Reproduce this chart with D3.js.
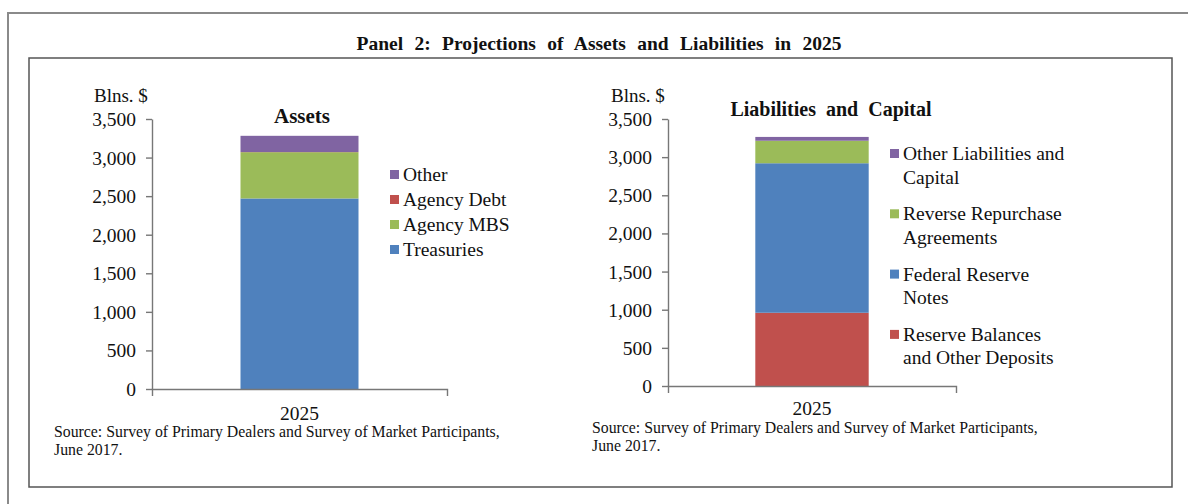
<!DOCTYPE html>
<html><head><meta charset="utf-8">
<script src="https://cdn.jsdelivr.net/npm/d3@7"></script>
<style>
body{margin:0;background:#fff;}
svg{display:block;}
svg text{font-family:"Liberation Serif","Times New Roman",serif !important;fill:#111;}
</style></head>
<body><svg id="c" width="1188" height="504"></svg>
<script>
const categories = ["2025"];
const yTicks = [0, 500, 1000, 1500, 2000, 2500, 3000, 3500];
const assetSeries = ["Treasuries", "Agency MBS", "Agency Debt", "Other"];
const assetValues = [2470, 600, 2, 210];
const assetColors = ["#4F81BD", "#9BBB59", "#C0504D", "#8064A2"];
const liabSeries = ["Reserve Balances and Other Deposits", "Federal Reserve Notes", "Reverse Repurchase Agreements", "Other Liabilities and Capital"];
const liabValues = [960, 1960, 295, 50];
const liabColors = ["#C0504D", "#4F81BD", "#9BBB59", "#8064A2"];
const assetLegend = [["Other"], ["Agency Debt"], ["Agency MBS"], ["Treasuries"]];
const assetLegendColors = ["#8064A2", "#C0504D", "#9BBB59", "#4F81BD"];
const liabLegend = [["Other Liabilities and", "Capital"], ["Reverse Repurchase", "Agreements"], ["Federal Reserve", "Notes"], ["Reserve Balances", "and Other Deposits"]];
const liabLegendColors = ["#8064A2", "#9BBB59", "#4F81BD", "#C0504D"];

const svg = d3.select("#c");

// frames
svg.append("path").attr("d", "M8,504 V13 H1188").attr("fill", "none").attr("stroke", "#8a8a8a").attr("stroke-width", 2);
svg.append("rect").attr("x", 29).attr("y", 58).attr("width", 1143).attr("height", 429)
  .attr("fill", "none").attr("stroke", "#555").attr("stroke-width", 1.5);

svg.append("text").attr("x", 599).attr("y", 50).attr("text-anchor", "middle")
  .attr("font-size", 19.5).attr("font-weight", "bold").attr("word-spacing", 6.5)
  .text("Panel 2: Projections of Assets and Liabilities in 2025");

function panel(o) {
  const g = svg.append("g");
  const y = d3.scaleLinear().domain([0, 3500]).range([o.y0, o.y1]);
  const x = d3.scaleBand().domain(categories).range([o.x0, o.x1]).paddingInner(0).paddingOuter(o.pad);
  const row = {cat: categories[0]};
  o.series.forEach((s, i) => row[s] = o.values[i]);
  const stack = d3.stack().keys(o.series)([row]);
  g.selectAll("rect.bar").data(stack).join("rect").attr("class", "bar")
    .attr("x", d => x(d[0].data.cat)).attr("width", x.bandwidth())
    .attr("y", d => y(d[0][1])).attr("height", d => y(d[0][0]) - y(d[0][1]))
    .attr("fill", (d, i) => o.colors[i]);

  const ya = g.append("g").attr("transform", `translate(${o.x0},0)`)
    .call(d3.axisLeft(y).tickValues(yTicks).tickFormat(d3.format(",")).tickSize(6).tickSizeOuter(0).tickPadding(10));
  const xa = g.append("g").attr("transform", `translate(0,${o.y0})`)
    .call(d3.axisBottom(x).tickSize(0).tickSizeOuter(7).tickPadding(o.xPad));
  [ya, xa].forEach(a => {
    a.select(".domain").attr("stroke", "#777").attr("stroke-width", 1.4);
    a.selectAll(".tick line").attr("stroke", "#777").attr("stroke-width", 1.4);
    a.selectAll("text").attr("font-size", 19.5);
  });
  ya.selectAll("text").attr("dy", "0.33em");

  g.append("text").attr("x", o.unitX).attr("y", 102).attr("font-size", 19).text("Blns. $");
  g.append("text").attr("x", o.titleX).attr("y", o.titleY).attr("text-anchor", "middle")
    .attr("font-size", o.titleSize).attr("font-weight", "bold").attr("word-spacing", o.titleWs).text(o.title);

  o.legend.forEach((lines, i) => {
    const ly = o.legY + i * o.legStep;
    g.append("rect").attr("x", o.legX).attr("y", ly - 11).attr("width", 9).attr("height", 9).attr("fill", o.legColors[i]);
    lines.forEach((t, j) => {
      g.append("text").attr("x", o.legX + 13).attr("y", ly + j * 23.5)
        .attr("font-size", 19.5).text(t);
    });
  });

  o.source.forEach((t, j) => {
    g.append("text").attr("x", o.srcX).attr("y", o.srcY + j * 18).attr("font-size", 15.8).text(t);
  });
}

const source = ["Source: Survey of Primary Dealers and Survey of Market Participants,", "June 2017."];

panel({x0: 152, x1: 447, y0: 389, y1: 119, pad: 0.75, xPad: 17, series: assetSeries, values: assetValues, colors: assetColors,
  unitX: 94, title: "Assets", titleX: 302, titleY: 123, titleWs: 0, titleSize: 21,
  legend: assetLegend, legColors: assetLegendColors, legX: 390, legY: 181, legStep: 25,
  source: source, srcX: 54, srcY: 437});

panel({x0: 668, x1: 956, y0: 386, y1: 119, pad: 0.77, xPad: 15, series: liabSeries, values: liabValues, colors: liabColors,
  unitX: 611, title: "Liabilities and Capital", titleX: 831, titleY: 116, titleWs: 5, titleSize: 20,
  legend: liabLegend, legColors: liabLegendColors, legX: 890, legY: 160, legStep: 60.3,
  source: source, srcX: 592, srcY: 433});
</script></body></html>
